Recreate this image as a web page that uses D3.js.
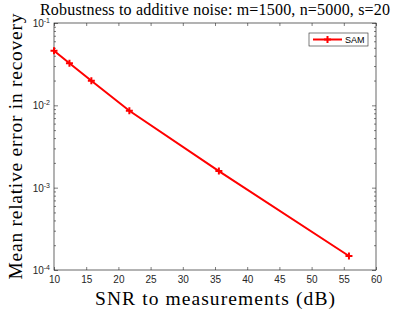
<!DOCTYPE html>
<html>
<head>
<meta charset="utf-8">
<script src="https://cdn.jsdelivr.net/npm/d3@7"></script>
<style>
  body { margin: 0; background: #fff; }
  svg { display: block; }
</style>
</head>
<body>
<div id="chart"></div>
<script>
// data
var snr = [10, 12.4, 15.8, 21.7, 35.6, 55.8];
var err = [0.046, 0.0324, 0.0199, 0.0086, 0.00159, 0.000148];
var xTicks = [10, 15, 20, 25, 30, 35, 40, 45, 50, 55, 60];
var yTicks = [1e-4, 1e-3, 1e-2, 1e-1];
var yExp = ["-4", "-3", "-2", "-1"];

var width = 415, height = 312;
var margin = {top: 23, left: 54, right: 39, bottom: 42};

var svg = d3.select("#chart").append("svg")
    .attr("width", width)
    .attr("height", height);

var x = d3.scaleLinear().domain([10, 60]).range([margin.left, width - margin.right]);
var y = d3.scaleLog().domain([1e-4, 1e-1]).range([height - margin.bottom, margin.top]);

var axisColor = "#262626";
var serif = "Liberation Serif, DejaVu Serif, serif";
var sans = "Liberation Sans, Arial, sans-serif";
var g = svg.append("g");

function styleTicks(s){
    s.select(".domain").remove();
    s.selectAll("line").attr("stroke", axisColor).attr("stroke-width", 0.6);
}

// minor y ticks
var minor = [];
for (var e = -4; e < -1; e++) {
    for (var k = 2; k <= 9; k++) minor.push(k * Math.pow(10, e));
}

g.append("g")
    .attr("transform", "translate(" + margin.left + ",0)")
    .call(d3.axisLeft(y).tickValues(minor).tickSize(-2).tickFormat(""))
    .call(styleTicks);
g.append("g")
    .attr("transform", "translate(" + (width - margin.right) + ",0)")
    .call(d3.axisRight(y).tickValues(minor).tickSize(-2).tickFormat(""))
    .call(styleTicks);

// major y ticks
g.append("g")
    .attr("transform", "translate(" + margin.left + ",0)")
    .call(d3.axisLeft(y).tickValues(yTicks).tickSize(-4).tickFormat(""))
    .call(styleTicks);
g.append("g")
    .attr("transform", "translate(" + (width - margin.right) + ",0)")
    .call(d3.axisRight(y).tickValues(yTicks).tickSize(-4).tickFormat(""))
    .call(styleTicks);

// y tick labels 10^e
var yLab = g.selectAll(".ylab")
    .data(yTicks)
    .enter()
    .append("text")
    .attr("class", "ylab")
    .attr("x", margin.left - 4)
    .attr("y", function(d){ return y(d) + 4; })
    .attr("text-anchor", "end")
    .attr("font-family", sans)
    .attr("font-size", 10)
    .attr("fill", axisColor);
yLab.append("tspan").text("10");
yLab.append("tspan")
    .attr("font-size", 7)
    .attr("dy", -4)
    .text(function(d, i){ return yExp[i]; });

// x ticks bottom and top
var xb = g.append("g")
    .attr("transform", "translate(0," + (height - margin.bottom) + ")")
    .call(d3.axisBottom(x).tickValues(xTicks).tickSize(-3).tickPadding(6))
    .call(styleTicks);
xb.selectAll("text")
    .attr("font-family", sans)
    .attr("font-size", 10)
    .attr("fill", axisColor);

g.append("g")
    .attr("transform", "translate(0," + margin.top + ")")
    .call(d3.axisTop(x).tickValues(xTicks).tickSize(-3).tickFormat(""))
    .call(styleTicks);

// box
g.append("rect")
    .attr("x", margin.left)
    .attr("y", margin.top)
    .attr("width", width - margin.left - margin.right)
    .attr("height", height - margin.top - margin.bottom)
    .attr("fill", "none")
    .attr("stroke", axisColor)
    .attr("stroke-width", 0.7);

// line
var line = d3.line()
    .x(function(d, i){ return x(snr[i]); })
    .y(function(d){ return y(d); });

g.append("path")
    .datum(err)
    .attr("d", line)
    .attr("fill", "none")
    .attr("stroke", "#ff0000")
    .attr("stroke-width", 2);

g.selectAll(".mark")
    .data(err)
    .enter()
    .append("path")
    .attr("class", "mark")
    .attr("transform", function(d, i){ return "translate(" + x(snr[i]) + "," + y(d) + ")"; })
    .attr("d", "M-3.5,0H3.5M0,-3.5V3.5")
    .attr("stroke", "#ff0000")
    .attr("stroke-width", 2);

// legend
var leg = g.append("g").attr("transform", "translate(309,33)");
leg.append("rect")
    .attr("width", 59)
    .attr("height", 13)
    .attr("fill", "#fff")
    .attr("stroke", axisColor)
    .attr("stroke-width", 0.6);
leg.append("line")
    .attr("x1", 4).attr("x2", 33)
    .attr("y1", 6.5).attr("y2", 6.5)
    .attr("stroke", "#ff0000")
    .attr("stroke-width", 2);
leg.append("path")
    .attr("transform", "translate(18.5,6.5)")
    .attr("d", "M-3.5,0H3.5M0,-3.5V3.5")
    .attr("stroke", "#ff0000")
    .attr("stroke-width", 2);
leg.append("text")
    .attr("x", 36)
    .attr("y", 10)
    .attr("font-family", sans)
    .attr("font-size", 9)
    .attr("fill", "#000")
    .text("SAM");

// title and axis labels (CM-like wide serif, stretched to the original extents)
svg.append("text")
    .attr("x", (margin.left + width - margin.right) / 2)
    .attr("y", 15)
    .attr("text-anchor", "middle")
    .attr("font-family", serif)
    .attr("font-size", 16)
    .attr("textLength", 350)
    .attr("lengthAdjust", "spacing")
    .attr("fill", "#000")
    .text("Robustness to additive noise: m=1500, n=5000, s=20");

svg.append("text")
    .attr("x", (margin.left + width - margin.right) / 2)
    .attr("y", 305)
    .attr("text-anchor", "middle")
    .attr("font-family", serif)
    .attr("font-size", 19.5)
    .attr("textLength", 240)
    .attr("lengthAdjust", "spacing")
    .attr("fill", "#000")
    .text("SNR to measurements (dB)");

svg.append("text")
    .attr("transform", "translate(22," + ((margin.top + height - margin.bottom) / 2) + ") rotate(-90)")
    .attr("text-anchor", "middle")
    .attr("font-family", serif)
    .attr("font-size", 19.5)
    .attr("textLength", 266)
    .attr("lengthAdjust", "spacing")
    .attr("fill", "#000")
    .text("Mean relative error in recovery");
</script>
</body>
</html>
